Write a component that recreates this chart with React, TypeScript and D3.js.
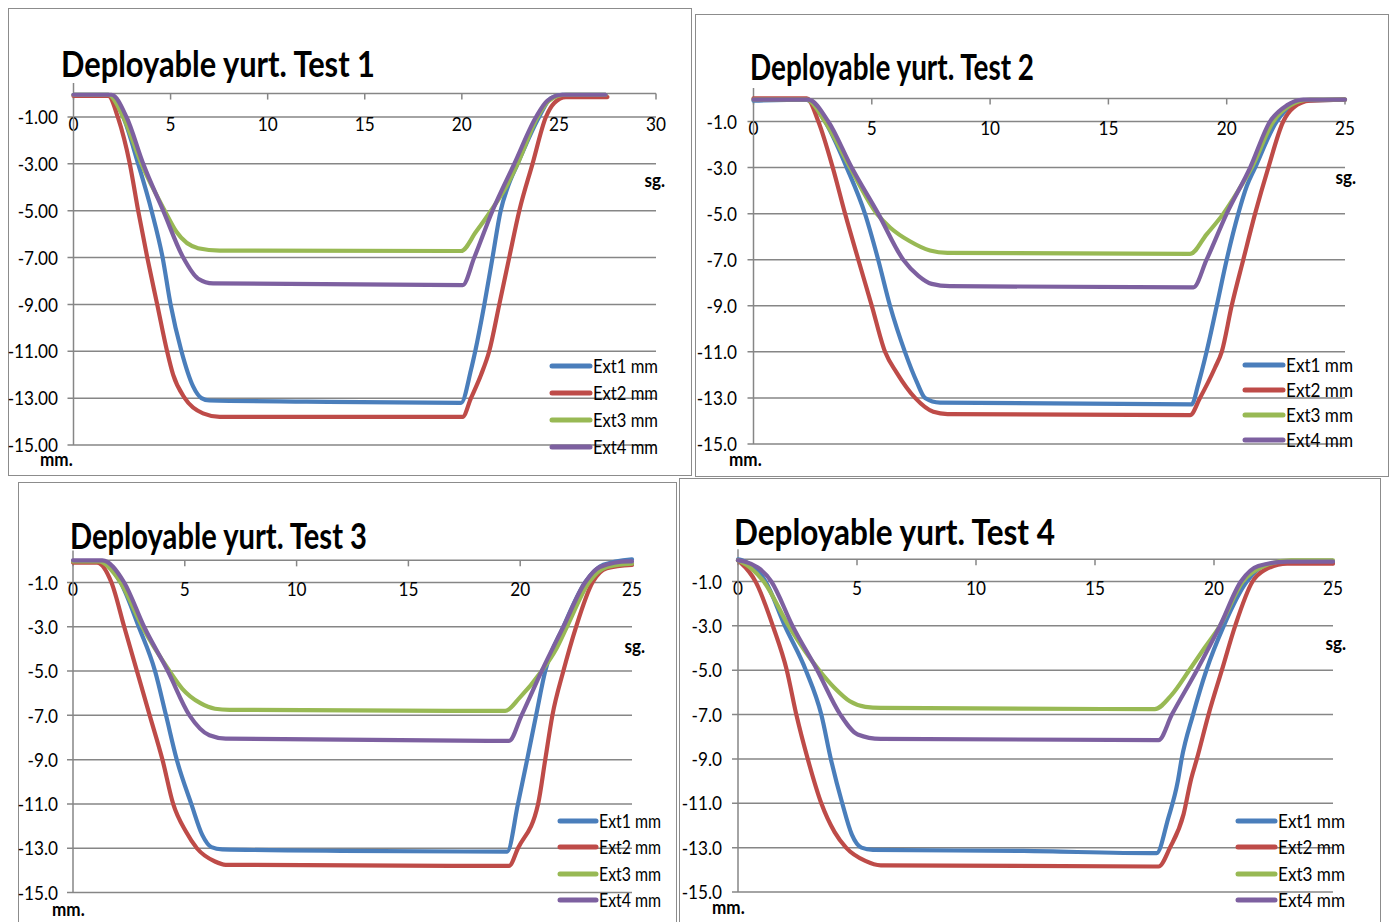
import React from "react";
import * as d3 from "d3";

type Pt = [number, number];

// ---------- DATA (time in s, displacement in mm) ----------
const seriesNames = ["Ext1 mm", "Ext2 mm", "Ext3 mm", "Ext4 mm"];
const titles = [
  "Deployable yurt. Test 1",
  "Deployable yurt. Test 2",
  "Deployable yurt. Test 3",
  "Deployable yurt. Test 4",
];
const yTicks = [-1, -3, -5, -7, -9, -11, -13, -15];
const xTicksTest1 = [0, 5, 10, 15, 20, 25, 30];
const xTicksOther = [0, 5, 10, 15, 20, 25];

const test1Ext1: Pt[] = [[0,-0.05],[1.8,-0.05],[2.56,-1],[3.33,-3],[4.02,-5],[4.59,-7],[5.0,-9],[5.56,-11],[6.16,-12.5],[6.59,-13],[7.0,-13.1],[12,-13.15],[19.96,-13.2],[20.47,-11.8],[20.69,-11],[21.16,-9],[21.58,-7],[22.0,-5],[22.36,-4],[22.87,-3],[23.98,-1],[24.58,-0.2],[25.18,-0.05],[27.4,-0.05]];
const test1Ext2: Pt[] = [[0,-0.1],[1.79,-0.1],[2.3,-1.05],[2.9,-3],[3.33,-5],[3.8,-7],[4.31,-9],[4.82,-11],[5.13,-12],[5.73,-13],[6.67,-13.65],[7.53,-13.8],[20.04,-13.8],[20.47,-13],[20.99,-12],[21.41,-11],[21.93,-9],[22.44,-7],[22.96,-5],[23.64,-3],[24.33,-1],[24.76,-0.4],[25.36,-0.15],[27.5,-0.15]];
const test1Ext3: Pt[] = [[0,-0.05],[1.79,-0.05],[2.56,-1],[3.5,-3],[4.7,-5],[5.3,-5.9],[6.42,-6.6],[7.53,-6.7],[19.96,-6.72],[20.73,-5.9],[21.5,-5],[22.27,-4],[22.87,-3],[23.9,-1],[24.5,-0.3],[25.36,-0.05],[27.4,-0.05]];
const test1Ext4: Pt[] = [[0,-0.05],[1.96,-0.05],[2.73,-1],[3.59,-3],[4.62,-5],[5.65,-7],[6.42,-7.9],[7.19,-8.1],[20.04,-8.18],[20.64,-7],[21.58,-5],[22.7,-3],[23.82,-1],[24.41,-0.3],[25.18,-0.05],[27.4,-0.05]];

const test2Ext1: Pt[] = [[0,-0.1],[2.2,-0.05],[3.02,-1],[3.94,-3],[4.71,-5],[5.27,-7],[5.77,-9],[6.4,-11],[6.9,-12.3],[7.25,-13],[7.88,-13.2],[18.52,-13.28],[18.8,-12.4],[19.15,-11],[19.58,-9],[20.0,-7],[20.49,-5],[20.85,-3.8],[21.2,-3],[22.11,-1],[22.75,-0.3],[23.38,-0.1],[25,-0.05]];
const test2Ext2: Pt[] = [[0,0],[2.25,0],[2.74,-1],[3.35,-3],[3.87,-5],[4.43,-7],[5.0,-9],[5.56,-11],[6.05,-11.9],[6.83,-13],[7.6,-13.6],[8.2,-13.7],[18.45,-13.75],[18.87,-13],[19.5,-11.7],[19.79,-11],[20.21,-9],[20.7,-7],[21.2,-5],[21.76,-3],[22.39,-1],[22.82,-0.4],[23.52,-0.1],[25,-0.05]];
const test2Ext3: Pt[] = [[0,-0.05],[2.25,-0.05],[3.02,-1],[4.08,-3],[5.21,-5],[5.77,-5.6],[6.61,-6.2],[7.46,-6.6],[8.2,-6.7],[18.45,-6.75],[19.15,-5.9],[19.86,-5],[20.49,-4],[21.06,-3],[21.97,-1],[22.68,-0.3],[23.52,-0.05],[25,-0.05]];
const test2Ext4: Pt[] = [[0,-0.05],[2.32,-0.05],[3.16,-1],[4.15,-3],[5.27,-5],[6.33,-7],[6.97,-7.7],[7.53,-8.05],[8.3,-8.15],[18.59,-8.2],[19.15,-7],[20.0,-5],[20.99,-3],[21.83,-1],[22.54,-0.3],[23.24,-0.05],[25,-0.05]];

const test3Ext1: Pt[] = [[0,-0.05],[1.15,-0.05],[2.13,-1],[2.94,-3],[3.67,-5],[4.16,-7],[4.64,-9],[5.29,-11],[5.78,-12.4],[6.19,-12.95],[6.67,-13.05],[12,-13.12],[19.42,-13.15],[19.9,-11],[20.31,-9],[20.71,-7],[21.12,-5],[21.93,-3],[22.9,-1],[23.72,-0.2],[25,0.05]];
const test3Ext2: Pt[] = [[0,-0.1],[1.07,-0.1],[1.72,-1],[2.29,-3],[2.86,-5],[3.43,-7],[4.0,-9],[4.48,-11],[5.05,-12.25],[5.54,-13],[6.35,-13.6],[6.83,-13.75],[19.5,-13.8],[19.9,-13],[20.8,-11],[21.12,-9],[21.44,-7],[21.93,-5],[22.5,-3],[23.23,-1],[23.88,-0.35],[25,-0.2]];
const test3Ext3: Pt[] = [[0,-0.05],[1.15,-0.05],[2.13,-1],[3.1,-3],[4.32,-5],[4.89,-5.8],[5.7,-6.45],[6.35,-6.7],[7,-6.75],[19.33,-6.8],[19.98,-6.2],[20.96,-5],[21.61,-4],[22.09,-3],[23.07,-1],[23.88,-0.3],[25,-0.15]];
const test3Ext4: Pt[] = [[0,0],[1.31,0],[2.29,-1],[3.18,-3],[4.24,-5],[5.21,-7],[6.1,-7.9],[6.83,-8.05],[19.5,-8.15],[20.06,-7],[20.96,-5],[21.93,-3],[22.9,-1],[23.56,-0.3],[24.85,-0.05],[25,-0.05]];

const test4Ext1: Pt[] = [[0,0],[0.19,-0.05],[1.16,-1],[1.97,-3],[2.85,-5],[3.5,-7],[3.9,-9],[4.38,-11],[4.78,-12.4],[5.19,-13],[5.67,-13.1],[12,-13.15],[17.59,-13.25],[18.07,-11.7],[18.48,-10],[18.64,-9],[19.12,-7],[19.68,-5],[20.41,-3],[21.38,-1],[22.1,-0.3],[23.07,-0.15],[25,-0.15]];
const test4Ext2: Pt[] = [[0,-0.05],[0.11,-0.15],[0.76,-1.05],[1.48,-3.05],[2.05,-5],[2.45,-7],[2.93,-9],[3.5,-11],[4.06,-12.3],[4.54,-13],[5.35,-13.6],[6.0,-13.8],[17.67,-13.85],[18.15,-13],[18.72,-11.5],[19.04,-9.9],[19.28,-9],[19.77,-7],[20.33,-5],[20.89,-3],[21.62,-1],[22.1,-0.5],[23.07,-0.2],[25,-0.2]];
const test4Ext3: Pt[] = [[0,-0.05],[0.11,-0.1],[1.08,-1],[2.13,-3],[3.41,-5],[4.06,-5.8],[4.7,-6.4],[5.35,-6.65],[6,-6.7],[17.51,-6.75],[18.23,-6.1],[18.96,-5],[19.6,-4],[20.25,-3],[21.21,-1],[22.1,-0.3],[23.23,-0.05],[25,-0.05]];
const test4Ext4: Pt[] = [[0,-0.05],[0.27,-0.1],[1.4,-1],[2.29,-3],[3.33,-5],[4.3,-7],[5.03,-7.9],[5.99,-8.1],[17.67,-8.15],[18.23,-7],[19.28,-5],[20.25,-3],[21.13,-1],[21.86,-0.3],[23.07,-0.1],[25,-0.1]];

// ---------- STYLE / LAYOUT ----------
const COLORS = ["#4A7EBB", "#BE4B48", "#98B954", "#7D60A0"];
const GRID = "#868686";
const FONT = "Lato, 'Open Sans', 'Liberation Sans', sans-serif";

interface PanelCfg {
  title: string;
  data: Pt[][];
  xTicks: number[];
  xMax: number;
  decimals: number;
  border: [number, number, number, number];
  xRange: [number, number];
  yM1: number;
  yM15: number;
  title_x: number;
  title_y: number;
  title_w: number;
  xLabY: number;
  yLabX: number;
  sg: [number, number];
  mm: [number, number];
  legX: number;
  legLen: number;
  legW: number;
  legY: number[];
}

const panels: PanelCfg[] = [
  {
    title: titles[0], data: [test1Ext1, test1Ext2, test1Ext3, test1Ext4], xTicks: xTicksTest1, xMax: 30, decimals: 2,
    border: [8, 8, 691, 475], xRange: [73.5, 656], yM1: 117, yM15: 445,
    title_x: 61, title_y: 77, title_w: 314, xLabY: 131, yLabX: 58, sg: [665, 187], mm: [40, 466],
    legX: 552, legLen: 38, legW: 65, legY: [366, 393, 420, 447],
  },
  {
    title: titles[1], data: [test2Ext1, test2Ext2, test2Ext3, test2Ext4], xTicks: xTicksOther, xMax: 25, decimals: 1,
    border: [695, 14, 1388, 476], xRange: [753.5, 1345], yM1: 121.5, yM15: 444,
    title_x: 750, title_y: 80, title_w: 284, xLabY: 135, yLabX: 737, sg: [1356, 184], mm: [729, 466],
    legX: 1245, legLen: 38, legW: 67, legY: [365, 390, 415, 440],
  },
  {
    title: titles[2], data: [test3Ext1, test3Ext2, test3Ext3, test3Ext4], xTicks: xTicksOther, xMax: 25, decimals: 1,
    border: [18, 482, 676, 930], xRange: [73, 632], yM1: 582.5, yM15: 892.5,
    title_x: 70, title_y: 549, title_w: 297, xLabY: 596, yLabX: 58, sg: [645, 653], mm: [52, 916],
    legX: 560, legLen: 36, legW: 62, legY: [821, 847, 874, 900],
  },
  {
    title: titles[3], data: [test4Ext1, test4Ext2, test4Ext3, test4Ext4], xTicks: xTicksOther, xMax: 25, decimals: 1,
    border: [679, 478, 1380, 930], xRange: [738, 1333], yM1: 581.5, yM15: 892,
    title_x: 734, title_y: 545, title_w: 321, xLabY: 595, yLabX: 722, sg: [1346, 650], mm: [712, 914],
    legX: 1238, legLen: 37, legW: 67, legY: [821, 847, 874, 900],
  },
];

function T(props: { x: number; y: number; anchor?: string; sx?: number; size?: number; bold?: boolean; dy?: string; children: React.ReactNode }) {
  const { x, y, anchor = "start", sx = 0.86, size = 20, bold = false, dy } = props;
  return (
    <text transform={`translate(${x},${y}) scale(${sx},1)`} dy={dy} textAnchor={anchor}
      fontFamily={FONT} fontSize={size} fontWeight={bold ? "bold" : "normal"} fill="#000">
      {props.children}
    </text>
  );
}

function Panel({ cfg }: { cfg: PanelCfg }) {
  const x = d3.scaleLinear().domain([0, cfg.xMax]).range(cfg.xRange);
  const y = d3.scaleLinear().domain([-1, -15]).range([cfg.yM1, cfg.yM15]);
  const line = d3.line<Pt>().x((d) => x(d[0])).y((d) => y(d[1])).curve(d3.curveMonotoneX);
  const [bx0, by0, bx1, by1] = cfg.border;
  const x0 = x(0);
  const x1 = x(cfg.xMax);
  const fmt = (v: number) => d3.format(`.${cfg.decimals}f`)(v).replace("\u2212", "-");
  return (
    <g>
      <rect x={bx0 + 0.5} y={by0 + 0.5} width={bx1 - bx0} height={by1 - by0} fill="#fff" stroke="#8c8c8c" strokeWidth={1} />
      <text x={cfg.title_x} y={cfg.title_y} fontFamily={FONT} fontWeight="bold" fontSize={36}
        textLength={cfg.title_w} lengthAdjust="spacingAndGlyphs" fill="#000">{cfg.title}</text>
      {yTicks.map((v) => (
        <g key={v}>
          <line x1={x0 - 6} x2={x1} y1={y(v)} y2={y(v)} stroke={GRID} strokeWidth={1.5} />
          <T x={cfg.yLabX} y={y(v)} dy="0.36em" anchor="end">{fmt(v)}</T>
        </g>
      ))}
      <line x1={x0} x2={x1} y1={y(0)} y2={y(0)} stroke={GRID} strokeWidth={1.5} />
      {cfg.xTicks.map((t) => (
        <g key={t}>
          <line x1={x(t)} x2={x(t)} y1={y(0)} y2={y(0) + 6} stroke={GRID} strokeWidth={1.5} />
          <T x={x(t)} y={cfg.xLabY} anchor="middle">{t}</T>
        </g>
      ))}
      <line x1={x0} x2={x0} y1={y(0.45)} y2={y(-15)} stroke={GRID} strokeWidth={1.5} />
      {cfg.data.map((s, i) => (
        <path key={i} d={line(s) || ""} fill="none" stroke={COLORS[i]} strokeWidth={4.2} strokeLinejoin="round" strokeLinecap="round" />
      ))}
      <T x={cfg.sg[0]} y={cfg.sg[1]} anchor="end" bold size={18} sx={0.95}>sg.</T>
      <T x={cfg.mm[0]} y={cfg.mm[1]} bold size={18} sx={0.95}>mm.</T>
      {seriesNames.map((n, i) => (
        <g key={n}>
          <line x1={cfg.legX} x2={cfg.legX + cfg.legLen} y1={cfg.legY[i]} y2={cfg.legY[i]} stroke={COLORS[i]} strokeWidth={5} strokeLinecap="round" />
          <text x={cfg.legX + cfg.legLen + 3} y={cfg.legY[i]} dy="0.36em" fontFamily={FONT} fontSize={20}
            textLength={cfg.legW} lengthAdjust="spacingAndGlyphs" fill="#000">{n}</text>
        </g>
      ))}
    </g>
  );
}

export default function App() {
  return (
    <svg width={1392} height={922} style={{ position: "absolute", left: 0, top: 0, background: "#fff" }}>
      <rect x={0} y={0} width={1392} height={922} fill="#fff" />
      {panels.map((p, i) => (
        <Panel key={i} cfg={p} />
      ))}
    </svg>
  );
}
